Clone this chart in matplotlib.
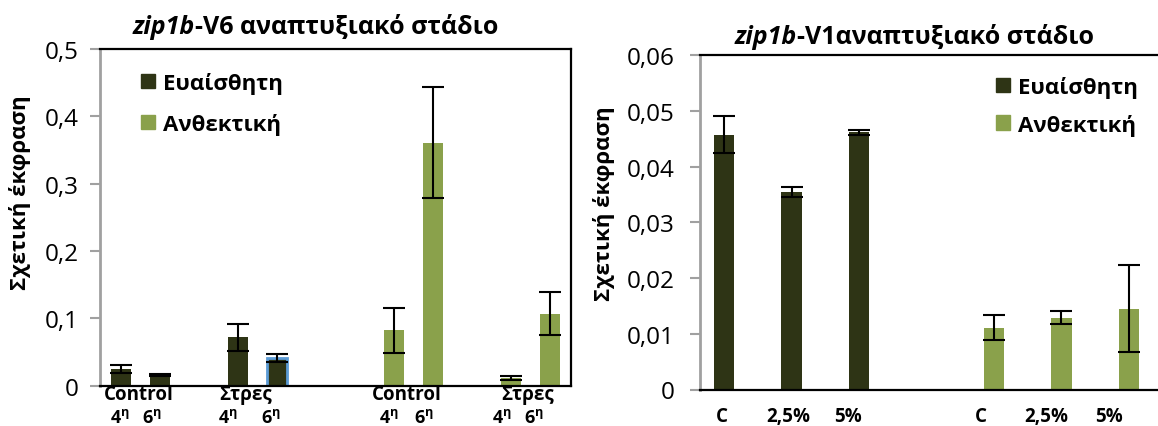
import matplotlib
matplotlib.use('Agg')
import matplotlib.pyplot as plt
from matplotlib.patches import Patch

plt.rcParams['font.family'] = ['Open Sans', 'DejaVu Sans']
plt.rcParams['mathtext.fontset'] = 'custom'
plt.rcParams['mathtext.rm'] = 'Open Sans'
plt.rcParams['mathtext.bf'] = 'Open Sans:bold'

DARK = '#2e3415'
LIGHT = '#8aa14b'

# left chart: zip1b V6
v6_sens = [0.025, 0.016, 0.072, 0.041]
v6_sens_err = [0.006, 0.001, 0.020, 0.0055]
v6_res = [0.082, 0.361, 0.011, 0.107]
v6_res_err = [0.034, 0.083, 0.003, 0.032]
v6_groups = ['Control', 'Στρες', 'Control', 'Στρες']
v6_weeks = ['4', '6', '4', '6', '4', '6', '4', '6']
v6_yticks = [0, 0.1, 0.2, 0.3, 0.4, 0.5]
v6_ylabels = ['0', '0,1', '0,2', '0,3', '0,4', '0,5']

# right chart: zip1b V1
v1_sens = [0.0457, 0.0355, 0.0461]
v1_sens_err = [0.0033, 0.0009, 0.0004]
v1_res = [0.0111, 0.0129, 0.0145]
v1_res_err = [0.0023, 0.0012, 0.0078]
v1_labels = ['C', '2,5%', '5%', 'C', '2,5%', '5%']
v1_yticks = [0, 0.01, 0.02, 0.03, 0.04, 0.05, 0.06]
v1_ylabels = ['0', '0,01', '0,02', '0,03', '0,04', '0,05', '0,06']

legend_names = ['Ευαίσθητη', 'Ανθεκτική']
ylab = 'Σχετική έκφραση'

W, H = 1158, 427
fig = plt.figure(figsize=(W / 100, H / 100), dpi=100)


def px(x0, y0, x1, y1):
    return [x0 / W, 1 - y1 / H, (x1 - x0) / W, (y1 - y0) / H]


def style_axes(ax, yt, ylabs, pad):
    ax.spines['left'].set_color('#a0a0a0')
    ax.spines['left'].set_linewidth(2)
    for s in ['top', 'right', 'bottom']:
        ax.spines[s].set_color('black')
        ax.spines[s].set_linewidth(1.6)
    ax.set_yticks(yt)
    ax.set_yticklabels(ylabs, fontsize=17.5)
    ax.tick_params(axis='y', direction='out', length=7, width=1.5, color='#a0a0a0', pad=pad)
    ax.set_xticks([])
    ax.set_ylim(yt[0], yt[-1])


ekw = dict(ecolor='black', elinewidth=1.5, capsize=8, capthick=1.5)
lkw = dict(loc='upper left', bbox_transform=fig.transFigure, frameon=False,
           prop={'weight': 'bold', 'size': 16}, handlelength=0.63, handleheight=0.63,
           handletextpad=0.35, borderpad=0, borderaxespad=0)

# ---- left
ax1 = fig.add_axes(px(100, 50, 571, 386.7))
xs = [0, 1, 3, 4]
xr = [7, 8, 10, 11]
ax1.bar(xs, v6_sens, 0.51, color=DARK, yerr=v6_sens_err, error_kw=ekw, zorder=2)
ax1.bar(xr, v6_res, 0.51, color=LIGHT, yerr=v6_res_err, error_kw=ekw, zorder=2)
ax1.patches[3].set_edgecolor('#5b9bd5')
ax1.patches[3].set_linewidth(2)
ax1.set_xlim(-0.54, 11.54)
style_axes(ax1, v6_yticks, v6_ylabels, 8.5)
ax1.set_ylabel(ylab, fontsize=16, fontweight='bold')
ax1.yaxis.set_label_coords(-0.146, 0.575)

tr = ax1.get_xaxis_transform()
for x, g in zip([0.45, 3.19, 7.33, 10.44], v6_groups):
    ax1.text(x, -0.025, g, transform=tr, ha='center', va='center',
             fontsize=13.5, fontweight='bold', clip_on=False)
for x, w in zip([-0.03, 0.79, 2.74, 3.85, 6.86, 7.77, 9.77, 10.59], v6_weeks):
    ax1.text(x, -0.107, r'$\mathbf{%s^{η}}$' % w, transform=tr, ha='center',
             va='baseline', fontsize=13, clip_on=False)

t = fig.text(133 / W, 1 - 27.5 / H, 'zip1b', fontsize=18, fontweight='bold',
             style='italic', va='center', ha='left')
ax1.annotate('-V6 αναπτυξιακό στάδιο', xy=(1, 0.5), xycoords=t, va='center',
             ha='left', fontsize=18, fontweight='bold', annotation_clip=False)

h = [Patch(color=DARK), Patch(color=LIGHT)]
ax1.legend(h, legend_names, bbox_to_anchor=(141 / W, 1 - 73 / H), labelspacing=0.85, **lkw)

# ---- right
ax2 = fig.add_axes(px(700, 56, 1158, 390.5))
xs2 = [0, 1, 2]
xr2 = [4, 5, 6]
ax2.bar(xs2, v1_sens, 0.3, color=DARK, yerr=v1_sens_err, error_kw=ekw, zorder=2)
ax2.bar(xr2, v1_res, 0.3, color=LIGHT, yerr=v1_res_err, error_kw=ekw, zorder=2)
ax2.set_xlim(-0.356, 6.43)
style_axes(ax2, v1_yticks, v1_ylabels, 11.5)
ax2.spines['right'].set_visible(False)
ax2.set_ylabel(ylab, fontsize=16, fontweight='bold')
ax2.yaxis.set_label_coords(-0.186, 0.557)

tr2 = ax2.get_xaxis_transform()
for x, lab in zip([-0.03, 0.95, 1.83, 3.81, 4.78, 5.71], v1_labels):
    ax2.text(x, -0.095, lab, transform=tr2, ha='center', va='baseline',
             fontsize=13.5, fontweight='bold', clip_on=False)

t2 = fig.text(735 / W, 1 - 37 / H, 'zip1b', fontsize=18, fontweight='bold',
              style='italic', va='center', ha='left')
ax2.annotate('-V1αναπτυξιακό στάδιο', xy=(1, 0.5), xycoords=t2, va='center',
             ha='left', fontsize=18, fontweight='bold', annotation_clip=False)

ax2.legend(h, legend_names, bbox_to_anchor=(996 / W, 1 - 77 / H), labelspacing=0.7, **lkw)

fig.savefig('out.png', dpi=100)
